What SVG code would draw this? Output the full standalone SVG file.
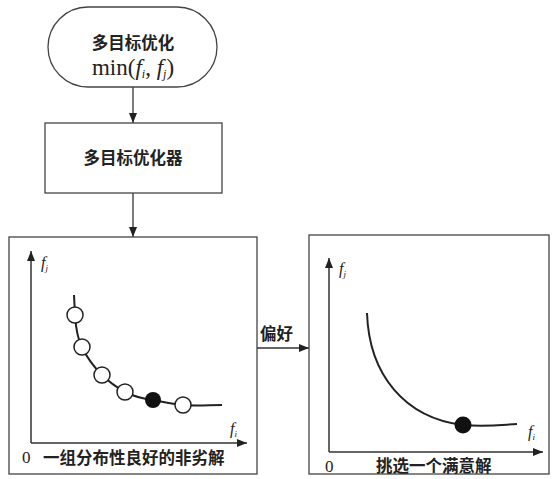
<svg xmlns="http://www.w3.org/2000/svg" width="553" height="479" viewBox="0 0 553 479">
<style>
.n{fill:#fff;stroke:#444;stroke-width:1.3}
.cn{font-family:"Liberation Sans","Noto Sans CJK SC",sans-serif;font-weight:bold;font-size:16.5px;fill:#222}
.sf{font-family:"Liberation Serif",serif;fill:#222}
.ax{stroke:#333;stroke-width:1.5;fill:none}
.cv{stroke:#222;stroke-width:2;fill:none}
.c{fill:#fff;stroke:#222;stroke-width:1.5}
.e{stroke:#333;stroke-width:1.3;fill:none}
</style>
<defs>
<marker id="ah" markerWidth="10" markerHeight="8" refX="10" refY="4" orient="auto" markerUnits="userSpaceOnUse">
<path d="M0,0 L10,4 L0,8 Z" fill="#222"/>
</marker>
</defs>
<rect width="553" height="479" fill="#fff"/>
<g id="connectors">
<line class="e" x1="133" y1="87" x2="133" y2="123" marker-end="url(#ah)"/>
<line class="e" x1="133" y1="193" x2="133" y2="237" marker-end="url(#ah)"/>
<line class="e" x1="257" y1="348" x2="309" y2="348" marker-end="url(#ah)"/>
<text class="cn" x="260" y="340">偏好</text>
</g>
<g id="start">
<rect class="n" x="48" y="7" width="169" height="80" rx="40" ry="40"/>
<text class="cn" x="133" y="49" text-anchor="middle">多目标优化</text>
<text class="sf" x="133" y="75" text-anchor="middle" font-size="23">min(<tspan font-style="italic">f</tspan><tspan font-size="12" dy="3" font-style="italic">i</tspan><tspan dy="-3">, </tspan><tspan font-style="italic">f</tspan><tspan font-size="12" dy="3" font-style="italic">j</tspan><tspan dy="-3">)</tspan></text>
</g>
<g id="optimizer">
<rect class="n" x="45" y="123" width="177" height="70"/>
<text class="cn" x="133" y="164" text-anchor="middle">多目标优化器</text>
</g>
<g id="pareto">
<rect class="n" x="9" y="237" width="248" height="237"/>
<line class="ax" x1="31" y1="443" x2="31" y2="251" marker-end="url(#ah)"/>
<line class="ax" x1="31" y1="443" x2="247" y2="443" marker-end="url(#ah)"/>
<text class="sf" x="41" y="268" font-size="16" font-style="italic">f<tspan font-size="9" dy="3">j</tspan></text>
<text class="sf" x="230" y="434" font-size="16" font-style="italic">f<tspan font-size="9" dy="3">i</tspan></text>
<text class="sf" x="22" y="463" font-size="17">0</text>
<path class="cv" d="M74,295 L75,315 C76,330 78,340 82,347 C88,360 95,368 102,375 C110,383 118,388 125,392 C135,397 145,399 153,400 C163,402 172,404 183,405 C195,406 210,405 222,405"/>
<circle class="c" cx="75" cy="315" r="8"/>
<circle class="c" cx="82" cy="347" r="8"/>
<circle class="c" cx="102" cy="375" r="8"/>
<circle class="c" cx="125" cy="392" r="8"/>
<circle cx="153" cy="400" r="8" fill="#111"/>
<circle class="c" cx="183" cy="405" r="8"/>
<text class="cn" x="43" y="464">一组分布性良好的非劣解</text>
</g>
<g id="choice">
<rect class="n" x="309" y="235" width="240" height="239"/>
<line class="ax" x1="329" y1="452" x2="329" y2="258" marker-end="url(#ah)"/>
<line class="ax" x1="329" y1="452" x2="543" y2="452" marker-end="url(#ah)"/>
<text class="sf" x="339" y="274" font-size="16" font-style="italic">f<tspan font-size="9" dy="3">j</tspan></text>
<text class="sf" x="528" y="437" font-size="16" font-style="italic">f<tspan font-size="9" dy="3">i</tspan></text>
<text class="sf" x="325" y="472" font-size="17">0</text>
<path class="cv" d="M367,313 C369,375 405,418 463,425 C485,427 500,425 517,424"/>
<circle cx="463" cy="425" r="8.5" fill="#111"/>
<text class="cn" x="376" y="472">挑选一个满意解</text>
</g>
</svg>
